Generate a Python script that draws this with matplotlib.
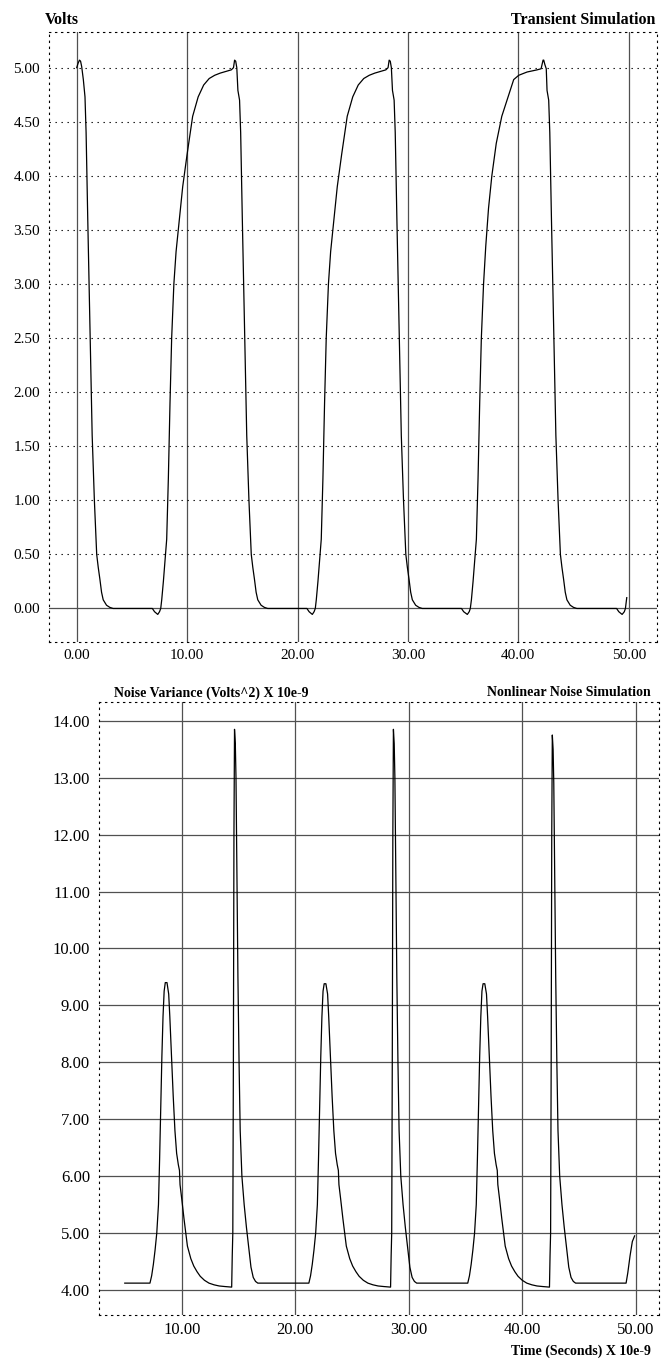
import matplotlib
matplotlib.use("Agg")
import matplotlib.pyplot as plt
import numpy as np

plt.rcParams['font.family'] = ['Liberation Serif', 'DejaVu Serif']

# ---- top chart: transient simulation (Volts vs time, ns) ----
t_pulse1 = [0.00, 0.12, 0.25, 0.35, 0.45, 0.60, 0.75, 0.85, 1.00, 1.20, 1.40, 1.60, 1.75, 1.81,
            1.95, 2.10, 2.25, 2.40, 2.70, 3.00, 3.30]
v_pulse1 = [5.00, 5.04, 5.07, 5.06, 5.01, 4.89, 4.73, 4.40, 3.60, 2.60, 1.60, 1.00, 0.64, 0.50,
            0.38, 0.27, 0.15, 0.08, 0.03, 0.01, 0.00]

t_pulse2 = [6.85, 7.05, 7.34, 7.50, 7.61, 7.70, 7.85, 8.00, 8.15, 8.30, 8.45, 8.60, 8.80, 9.00,
            9.30, 9.60, 10.00, 10.50, 11.00, 11.50, 12.00, 12.50, 13.00, 13.50, 14.00, 14.20,
            14.30, 14.40, 14.50, 14.60, 14.75, 14.85, 15.00, 15.20, 15.40, 15.60, 15.75, 15.81,
            15.95, 16.10, 16.25, 16.40, 16.70, 17.00, 17.30]
v_pulse2 = [0.00, -0.03, -0.055, -0.03, 0.00, 0.08, 0.25, 0.45, 0.64, 1.20, 1.90, 2.50, 3.00, 3.30,
            3.60, 3.90, 4.20, 4.55, 4.73, 4.84, 4.90, 4.93, 4.95, 4.965, 4.98, 5.00,
            5.07, 5.06, 5.00, 4.79, 4.70, 4.40, 3.60, 2.60, 1.60, 1.00, 0.64, 0.50,
            0.38, 0.27, 0.15, 0.08, 0.03, 0.01, 0.00]

t_pulse3 = [20.85, 21.05, 21.34, 21.50, 21.61, 21.70, 21.85, 22.00, 22.15, 22.30, 22.45, 22.60,
            22.80, 23.00, 23.30, 23.60, 24.00, 24.50, 25.00, 25.50, 26.00, 26.50, 27.00, 27.50,
            28.00, 28.20, 28.30, 28.40, 28.50, 28.60, 28.75, 28.85, 29.00, 29.20, 29.40, 29.60,
            29.75, 29.81, 29.95, 30.10, 30.25, 30.40, 30.70, 31.00, 31.30]
v_pulse3 = [0.00, -0.03, -0.055, -0.03, 0.00, 0.08, 0.25, 0.45, 0.64, 1.20, 1.90, 2.50,
            3.00, 3.30, 3.60, 3.90, 4.20, 4.55, 4.73, 4.84, 4.90, 4.93, 4.95, 4.965,
            4.98, 5.00, 5.07, 5.06, 5.00, 4.79, 4.70, 4.40, 3.60, 2.60, 1.60, 1.00,
            0.64, 0.50, 0.38, 0.27, 0.15, 0.08, 0.03, 0.01, 0.00]

t_pulse4 = [34.85, 35.05, 35.38, 35.55, 35.65, 35.75, 35.90, 36.05, 36.20, 36.35, 36.50, 36.65,
            36.85, 37.05, 37.30, 37.60, 38.00, 38.50, 38.98, 39.58, 40.04, 40.79, 41.70, 42.06,
            42.24, 42.30, 42.40, 42.53, 42.60, 42.75, 42.85, 43.00, 43.20, 43.40, 43.60, 43.75,
            43.81, 43.95, 44.10, 44.25, 44.40, 44.70, 45.00, 45.30]
v_pulse4 = [0.00, -0.03, -0.055, -0.03, 0.00, 0.08, 0.25, 0.45, 0.64, 1.20, 1.90, 2.50,
            3.00, 3.35, 3.70, 4.00, 4.30, 4.55, 4.70, 4.89, 4.93, 4.96, 4.98, 4.99,
            5.07, 5.07, 5.03, 4.99, 4.79, 4.70, 4.40, 3.60, 2.60, 1.60, 1.00, 0.64,
            0.50, 0.38, 0.27, 0.15, 0.08, 0.03, 0.01, 0.00]

t_tail = [48.90, 49.10, 49.40, 49.60, 49.70, 49.82]
v_tail = [0.00, -0.03, -0.055, -0.03, 0.00, 0.10]

top_xticks = [0, 10, 20, 30, 40, 50]
top_yticks = [0.0, 0.5, 1.0, 1.5, 2.0, 2.5, 3.0, 3.5, 4.0, 4.5, 5.0]

# ---- bottom chart: noise variance ----
t_noise1 = [4.98, 7.20, 7.35, 7.50, 7.65, 7.80, 7.95, 8.05, 8.15, 8.25, 8.35, 8.45, 8.55, 8.70,
            8.85, 8.95, 9.10, 9.25, 9.40, 9.55, 9.70, 9.80, 9.85, 10.00, 10.20, 10.50, 10.80,
            11.06, 11.35, 11.63, 12.00, 12.40, 12.85, 13.30, 13.80, 14.40]
n_noise1 = [4.12, 4.12, 4.25, 4.45, 4.70, 5.00, 5.50, 6.30, 7.20, 8.10, 8.80, 9.25, 9.40, 9.40,
            9.20, 8.80, 8.10, 7.40, 6.80, 6.40, 6.20, 6.10, 5.85, 5.60, 5.25, 4.77, 4.55,
            4.42, 4.32, 4.24, 4.17, 4.12, 4.09, 4.07, 4.06, 4.05]
t_spike1 = [14.45, 14.50, 14.55, 14.60, 14.65, 14.72, 14.78, 14.85, 14.95, 15.05, 15.15, 15.30,
            15.50, 15.70, 15.90, 16.10, 16.30, 16.50, 16.70, 21.20]
n_spike1 = [4.60, 5.00, 8.00, 12.00, 13.85, 13.60, 13.00, 11.50, 9.50, 8.00, 6.80, 6.00,
            5.50, 5.10, 4.75, 4.40, 4.22, 4.15, 4.12, 4.12]

t_noise2 = [21.35, 21.50, 21.65, 21.80, 21.95, 22.05, 22.15, 22.25, 22.35, 22.45, 22.55, 22.70,
            22.85, 22.95, 23.10, 23.25, 23.40, 23.55, 23.70, 23.80, 23.85, 24.00, 24.20, 24.50,
            24.80, 25.06, 25.35, 25.63, 26.00, 26.40, 26.85, 27.30, 27.80, 28.40]
n_noise2 = [4.25, 4.45, 4.70, 5.00, 5.50, 6.30, 7.20, 8.10, 8.80, 9.25, 9.38, 9.38,
            9.20, 8.80, 8.10, 7.40, 6.80, 6.40, 6.20, 6.10, 5.85, 5.60, 5.25, 4.77,
            4.55, 4.42, 4.32, 4.24, 4.17, 4.12, 4.09, 4.07, 4.06, 4.05]
t_spike2 = [28.45, 28.50, 28.55, 28.60, 28.65, 28.72, 28.78, 28.85, 28.95, 29.05, 29.15, 29.30,
            29.50, 29.70, 29.90, 30.10, 30.30, 30.50, 30.70, 35.20]
n_spike2 = [4.60, 5.00, 8.00, 12.00, 13.85, 13.60, 13.00, 11.50, 9.50, 8.00, 6.80, 6.00,
            5.50, 5.10, 4.75, 4.40, 4.22, 4.15, 4.12, 4.12]

t_noise3 = [35.35, 35.50, 35.65, 35.80, 35.95, 36.05, 36.15, 36.25, 36.35, 36.45, 36.55, 36.70,
            36.85, 36.95, 37.10, 37.25, 37.40, 37.55, 37.70, 37.80, 37.85, 38.00, 38.20, 38.50,
            38.80, 39.06, 39.35, 39.63, 40.00, 40.40, 40.85, 41.30, 41.80, 42.40]
n_noise3 = [4.25, 4.45, 4.70, 5.00, 5.50, 6.30, 7.20, 8.10, 8.80, 9.25, 9.38, 9.38,
            9.20, 8.80, 8.10, 7.40, 6.80, 6.40, 6.20, 6.10, 5.85, 5.60, 5.25, 4.77,
            4.55, 4.42, 4.32, 4.24, 4.17, 4.12, 4.09, 4.07, 4.06, 4.05]
t_spike3 = [42.45, 42.50, 42.55, 42.60, 42.65, 42.72, 42.78, 42.85, 42.95, 43.05, 43.15, 43.30,
            43.50, 43.70, 43.90, 44.10, 44.30, 44.50, 44.70, 49.15]
n_spike3 = [4.60, 5.00, 8.00, 12.00, 13.75, 13.50, 12.90, 11.50, 9.50, 8.00, 6.80, 6.00,
            5.50, 5.10, 4.75, 4.40, 4.22, 4.15, 4.12, 4.12]
t_noise_end = [49.30, 49.50, 49.70, 49.90]
n_noise_end = [4.30, 4.60, 4.85, 4.95]

bot_xticks = [10, 20, 30, 40, 50]
bot_yticks = [4, 5, 6, 7, 8, 9, 10, 11, 12, 13, 14]

t_top = np.concatenate([t_pulse1, t_pulse2, t_pulse3, t_pulse4, t_tail])
v_top = np.concatenate([v_pulse1, v_pulse2, v_pulse3, v_pulse4, v_tail])
t_bot = np.concatenate([t_noise1, t_spike1, t_noise2, t_spike2, t_noise3, t_spike3, t_noise_end])
n_bot = np.concatenate([n_noise1, n_spike1, n_noise2, n_spike2, n_noise3, n_spike3, n_noise_end])

W, H = 667, 1361
fig = plt.figure(figsize=(W / 100, H / 100), dpi=100)
dots = (0, (1.2, 4.2))
gridc = '#505050'


def style(ax, fs):
    for s in ax.spines.values():
        s.set_linestyle(dots)
        s.set_linewidth(0.8)
        s.set_color('black')
    ax.tick_params(length=0, labelsize=fs)
    ax.tick_params(axis='y', pad=6.5)
    ax.tick_params(axis='x', pad=5)
    ax.yaxis.set_major_formatter(matplotlib.ticker.FormatStrFormatter('%.2f'))
    ax.xaxis.set_major_formatter(matplotlib.ticker.FormatStrFormatter('%.2f'))


# top axes
ax1 = fig.add_axes([49 / W, 1 - 642 / H, (657 - 49) / W, (642 - 32) / H])
ax1.set_xlim(-2.51, 52.56)
ax1.set_ylim(-0.31, 5.33)
ax1.set_xticks(top_xticks)
ax1.set_yticks(top_yticks)
style(ax1, 11)
for x in top_xticks:
    ax1.axvline(x, color=gridc, lw=0.9, zorder=1)
for y in top_yticks[1:]:
    ax1.axhline(y, color='black', lw=0.8, ls=dots, zorder=1)
ax1.axhline(0, color=gridc, lw=0.9, zorder=1)
ax1.plot(t_top, v_top, color='black', lw=0.9, zorder=3)

# bottom axes
ax2 = fig.add_axes([99 / W, 1 - 1315 / H, (659 - 99) / W, (1315 - 702) / H])
ax2.set_xlim(2.71, 52.05)
ax2.set_ylim(3.56, 14.33)
ax2.set_xticks(bot_xticks)
ax2.set_yticks(bot_yticks)
style(ax2, 12)
for x in bot_xticks:
    ax2.axvline(x, color=gridc, lw=0.9, zorder=1)
for y in bot_yticks:
    ax2.axhline(y, color=gridc, lw=0.9, zorder=1)
ax2.plot(t_bot, n_bot, color='black', lw=0.9, zorder=3)

# titles
fig.text(45 / W, 1 - 20 / H, 'Volts', fontsize=11.5, fontweight='bold', ha='left', va='center')
fig.text(655 / W, 1 - 20 / H, 'Transient Simulation', fontsize=11.5, fontweight='bold',
         ha='right', va='center')
fig.text(114 / W, 1 - 693 / H, 'Noise Variance (Volts^2) X 10e-9', fontsize=10,
         fontweight='bold', ha='left', va='center')
fig.text(651 / W, 1 - 693 / H, 'Nonlinear Noise Simulation', fontsize=10, fontweight='bold',
         ha='right', va='center')
fig.text(651 / W, 1 - 1351 / H, 'Time (Seconds) X 10e-9', fontsize=10, fontweight='bold',
         ha='right', va='center')

fig.savefig('out.png', dpi=100)
